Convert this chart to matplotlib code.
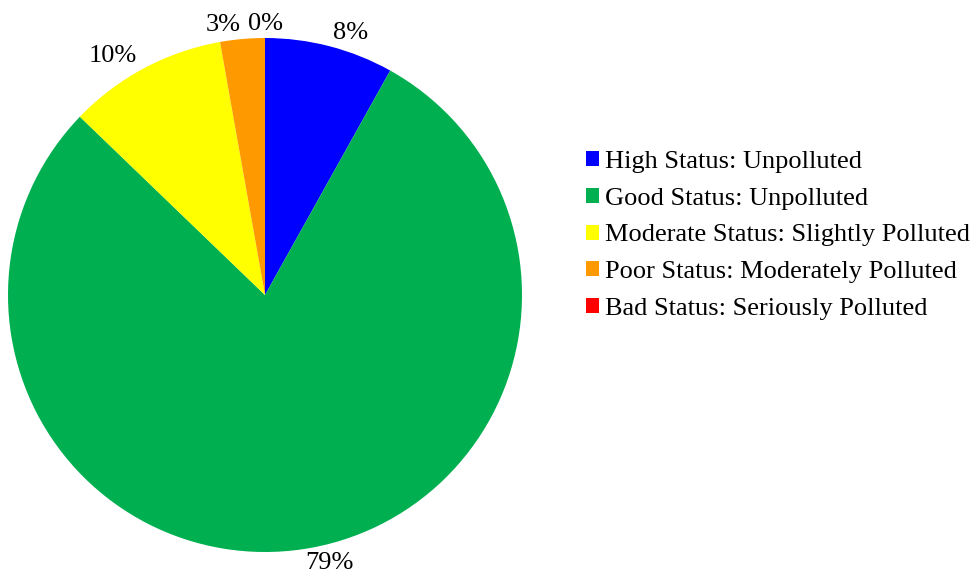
import matplotlib.pyplot as plt
from matplotlib.patches import Patch

categories = ['High Status: Unpolluted',
              'Good Status: Unpolluted',
              'Moderate Status: Slightly Polluted',
              'Poor Status: Moderately Polluted',
              'Bad Status: Seriously Polluted']
shares = [8.1, 79.1, 10.0, 2.8, 0.0]
pct_labels = ['8%', '79%', '10%', '3%', '0%']
colors = ['#0000FF', '#00B050', '#FFFF00', '#FF9900', '#FF0000']

plt.rcParams['font.family'] = ['Liberation Serif', 'DejaVu Serif']

W, H = 976, 583
fig = plt.figure(figsize=(W / 100, H / 100), dpi=100)

# pie centre and radius in pixels
cx, cy, r = 265, 583 - 295, 257
ax = fig.add_axes([(cx - r) / W, (cy - r) / H, 2 * r / W, 2 * r / H])

wedges, texts = ax.pie(shares, colors=colors, startangle=90, counterclock=False,
                       labels=pct_labels, labeldistance=1.055, radius=1.0,
                       textprops={'fontsize': 19, 'color': 'black'},
                       wedgeprops={'linewidth': 0})
# the zero slice sits right at the top, centre its label like excel does
texts[-1].set_ha('center')
ax.set_xlim(-1, 1)
ax.set_ylim(-1, 1)
ax.set_aspect('equal')

handles = [Patch(facecolor=c, edgecolor='none') for c in colors]
fig.legend(handles, categories, loc='center left', bbox_to_anchor=(575 / W, 1 - 235.5 / H),
           frameon=False, fontsize=19, handlelength=0.5, handleheight=0.5,
           handletextpad=0.25, labelspacing=0.56, borderaxespad=0)

fig.savefig('out.png', dpi=100)
